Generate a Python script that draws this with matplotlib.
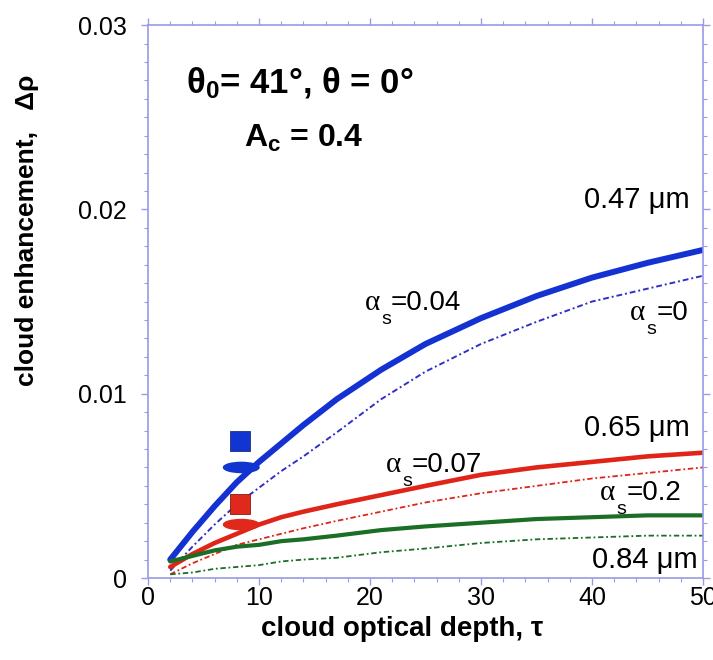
import matplotlib
matplotlib.use("Agg")
import matplotlib.pyplot as plt
from matplotlib.patches import Ellipse
from matplotlib.ticker import MultipleLocator

plt.rcParams['font.family'] = ['Liberation Sans', 'DejaVu Sans']
plt.rcParams['mathtext.fontset'] = 'custom'
plt.rcParams['mathtext.rm'] = 'Liberation Sans'
plt.rcParams['mathtext.it'] = 'Liberation Sans:italic'
plt.rcParams['mathtext.bf'] = 'Liberation Sans:bold'

# optical depth grid
tau = [2, 4, 6, 8, 10, 12, 14, 17, 21, 25, 30, 35, 40, 45, 50]

# 0.47 um
blue_solid = [0.0010, 0.0025, 0.0039, 0.0052, 0.0063, 0.0073, 0.0083, 0.0097, 0.0113, 0.0127,
              0.0141, 0.0153, 0.0163, 0.0171, 0.0178]
blue_dot = [0.0004, 0.0017, 0.0029, 0.0040, 0.0049, 0.0058, 0.0066, 0.0079, 0.0097, 0.0112,
            0.0127, 0.0139, 0.0150, 0.0157, 0.0164]
# 0.65 um
red_solid = [0.0006, 0.0013, 0.0019, 0.0024, 0.0029, 0.0033, 0.0036, 0.0040, 0.0045, 0.0050,
             0.0056, 0.0060, 0.0063, 0.0066, 0.0068]
red_dot = [0.0002, 0.0008, 0.0013, 0.0018, 0.0021, 0.0024, 0.0027, 0.0031, 0.0036, 0.0041,
           0.0046, 0.0050, 0.0054, 0.0057, 0.0060]
# 0.84 um
green_solid = [0.0009, 0.0012, 0.0015, 0.0017, 0.0018, 0.0020, 0.0021, 0.0023, 0.0026, 0.0028,
               0.0030, 0.0032, 0.0033, 0.0034, 0.0034]
green_dot = [0.0002, 0.0003, 0.0005, 0.0006, 0.0007, 0.0009, 0.0010, 0.0011, 0.0014, 0.0016,
             0.0019, 0.0021, 0.0022, 0.0023, 0.0023]

# observed points (square) and cloud symbol (ellipse)
obs_tau = [8.3, 8.3]
obs_val = [0.00745, 0.0040]
cloud_val = [0.0060, 0.0029]
obs_colors = ['#1035d0', '#e0281c']
obs_edges = ['#203070', '#802010']

# surface albedo labels: alpha position and value text
alb_tau = [20.2, 44.1, 22.1, 41.4]
alb_val = [0.01492, 0.01438, 0.00613, 0.00461]
alb_text = ['=0.04', '=0', '=0.07', '=0.2']

# wavelength labels (right edge)
wl_tau = [48.8, 48.8, 49.5]
wl_val = [0.0205, 0.00814, 0.00098]
wl_text = ['0.47 μm', '0.65 μm', '0.84 μm']

xticks = [0, 10, 20, 30, 40, 50]
yticks = [0, 0.01, 0.02, 0.03]
ytick_labels = ['0', '0.01', '0.02', '0.03']

BLUE = '#1432d2'
RED = '#e02418'
GREEN = '#1a6e26'
FRAME = '#9a9ae6'
DOTS = (0, (3, 1.5, 1, 1.5))

fig = plt.figure(figsize=(7.13, 6.6), dpi=100)
ax = fig.add_axes([0.2076, 0.1242, 0.7784, 0.8378])

ax.plot(tau, blue_solid, color=BLUE, lw=4.3, solid_capstyle='round')
ax.plot(tau, blue_dot, color='#3030c8', lw=1.4, ls=DOTS)
ax.plot(tau, red_solid, color=RED, lw=3.3, solid_capstyle='round')
ax.plot(tau, red_dot, color=RED, lw=1.3, ls=DOTS)
ax.plot(tau, green_solid, color=GREEN, lw=3.0, solid_capstyle='round')
ax.plot(tau, green_dot, color=GREEN, lw=1.3, ls=DOTS)

for t, v, c, col, ec in zip(obs_tau, obs_val, cloud_val, obs_colors, obs_edges):
    ax.plot(t, v, marker='s', ms=14, color=col, mec=ec, mew=0.6, zorder=4)
    ax.add_patch(Ellipse((t + 0.1, c), width=3.2, height=0.00055, color=col, zorder=3))

ax.set_xlim(0, 50)
ax.set_ylim(0, 0.03)
ax.set_xticks(xticks)
ax.set_xticklabels([str(x) for x in xticks])
ax.set_yticks(yticks)
ax.set_yticklabels(ytick_labels)
ax.xaxis.set_minor_locator(MultipleLocator(2))
ax.yaxis.set_minor_locator(MultipleLocator(0.001))

for s in ax.spines.values():
    s.set_color(FRAME)
    s.set_linewidth(1.2)
ax.tick_params(which='both', direction='out', color=FRAME, top=True, right=True)
ax.tick_params(which='major', length=5, width=1.0, labelsize=18)
ax.tick_params(which='minor', length=3, width=0.8)
ax.tick_params(axis='y', pad=10)
ax.tick_params(axis='x', pad=1)

fig.text(402 / 713, 1 - 629 / 660, 'cloud optical depth, τ', fontsize=20, fontweight='bold',
         ha='center', va='center')
fig.text(27 / 713, 1 - 230 / 660, 'cloud enhancement,   Δρ', fontsize=19, fontweight='bold',
         ha='center', va='center', rotation=90)

ax.text(13.7, 0.02686, r'$\mathbf{\theta_0}$= 41°, θ = 0°', fontsize=25, fontweight='bold',
        ha='center', va='center')
ax.text(14.05, 0.02387, r'$\mathbf{A_c}$ = 0.4', fontsize=23, fontweight='bold',
        ha='center', va='center')

for t, v, txt in zip(wl_tau, wl_val, wl_text):
    ax.text(t, v, txt, fontsize=21, ha='right', va='center')

for t, v, txt in zip(alb_tau, alb_val, alb_text):
    ax.annotate('α', (t, v), ha='center', va='center', fontsize=21, family='Liberation Serif')
    ax.annotate('s', (t, v), xytext=(10, -12), textcoords='offset points',
                ha='center', va='center', fontsize=14)
    ax.annotate(txt, (t, v), xytext=(13.5, 0), textcoords='offset points',
                ha='left', va='center', fontsize=20)

fig.savefig('out.png', dpi=100)
